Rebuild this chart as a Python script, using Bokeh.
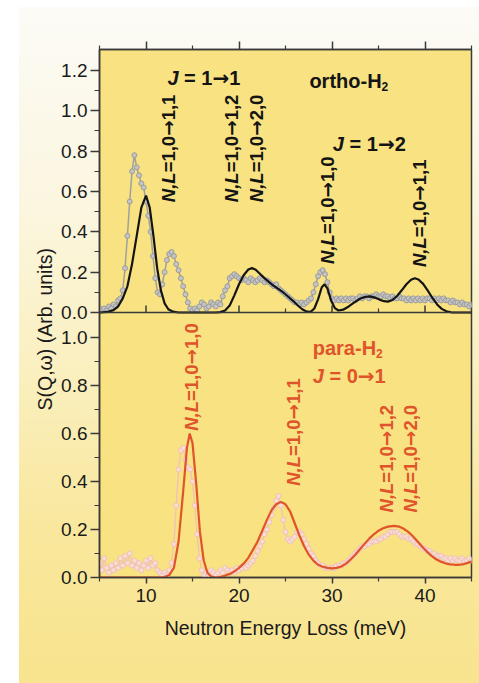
import math
from bokeh.plotting import figure
from bokeh.models import (ColumnDataSource, Range1d, LinearAxis, FixedTicker,
                          CustomJSTickFormatter, Span, Title, Spacer)
from bokeh.layouts import row, column
from bokeh.core.properties import value
from bokeh.embed import file_html
from bokeh.resources import INLINE

# ---------------- data ----------------
energy_grid = [
    5.00, 5.25, 5.50, 5.75, 6.00, 6.25, 6.50, 6.75, 7.00, 7.25, 7.50, 7.75,
    8.00, 8.25, 8.50, 8.75, 9.00, 9.25, 9.50, 9.75, 10.00, 10.25, 10.50, 10.75,
    11.00, 11.25, 11.50, 11.75, 12.00, 12.25, 12.50, 12.75, 13.00, 13.25, 13.50, 13.75,
    14.00, 14.25, 14.50, 14.75, 15.00, 15.25, 15.50, 15.75, 16.00, 16.25, 16.50, 16.75,
    17.00, 17.25, 17.50, 17.75, 18.00, 18.25, 18.50, 18.75, 19.00, 19.25, 19.50, 19.75,
    20.00, 20.25, 20.50, 20.75, 21.00, 21.25, 21.50, 21.75, 22.00, 22.25, 22.50, 22.75,
    23.00, 23.25, 23.50, 23.75, 24.00, 24.25, 24.50, 24.75, 25.00, 25.25, 25.50, 25.75,
    26.00, 26.25, 26.50, 26.75, 27.00, 27.25, 27.50, 27.75, 28.00, 28.25, 28.50, 28.75,
    29.00, 29.25, 29.50, 29.75, 30.00, 30.25, 30.50, 30.75, 31.00, 31.25, 31.50, 31.75,
    32.00, 32.25, 32.50, 32.75, 33.00, 33.25, 33.50, 33.75, 34.00, 34.25, 34.50, 34.75,
    35.00, 35.25, 35.50, 35.75, 36.00, 36.25, 36.50, 36.75, 37.00, 37.25, 37.50, 37.75,
    38.00, 38.25, 38.50, 38.75, 39.00, 39.25, 39.50, 39.75, 40.00, 40.25, 40.50, 40.75,
    41.00, 41.25, 41.50, 41.75, 42.00, 42.25, 42.50, 42.75, 43.00, 43.25, 43.50, 43.75,
    44.00, 44.25, 44.50, 44.75, 45.00,
]

ortho_measured = [
    0.02, 0.01, 0.02, 0.01, 0.03, 0.02, 0.04, 0.03, 0.06, 0.07, 0.11, 0.22,
    0.38, 0.55, 0.70, 0.78, 0.72, 0.68, 0.64, 0.62, 0.55, 0.48, 0.40, 0.28,
    0.17, 0.10, 0.09, 0.14, 0.20, 0.26, 0.29, 0.30, 0.28, 0.24, 0.21, 0.17,
    0.13, 0.09, 0.05, 0.02, 0.01, 0.02, 0.01, 0.03, 0.05, 0.04, 0.02, 0.03,
    0.05, 0.04, 0.03, 0.05, 0.04, 0.08, 0.11, 0.13, 0.17, 0.18, 0.19, 0.18,
    0.17, 0.16, 0.17, 0.16, 0.15, 0.17, 0.16, 0.15, 0.16, 0.17, 0.16, 0.15,
    0.16, 0.15, 0.14, 0.13, 0.14, 0.12, 0.11, 0.10, 0.09, 0.08, 0.07, 0.06,
    0.05, 0.05, 0.04, 0.05, 0.04, 0.05, 0.06, 0.07, 0.10, 0.14, 0.18, 0.20,
    0.21, 0.19, 0.15, 0.10, 0.07, 0.06, 0.07, 0.06, 0.07, 0.06, 0.07, 0.06,
    0.07, 0.07, 0.06, 0.07, 0.08, 0.07, 0.08, 0.08, 0.07, 0.08, 0.08, 0.09,
    0.08, 0.08, 0.09, 0.08, 0.08, 0.07, 0.08, 0.07, 0.07, 0.08, 0.07, 0.07,
    0.06, 0.07, 0.06, 0.07, 0.06, 0.07, 0.06, 0.07, 0.06, 0.07, 0.07, 0.06,
    0.07, 0.06, 0.07, 0.06, 0.07, 0.06, 0.06, 0.05, 0.06, 0.05, 0.05, 0.04,
    0.05, 0.04, 0.04, 0.03, 0.04,
]

para_measured = [
    0.06, 0.03, 0.08, 0.04, 0.02, 0.05, 0.03, 0.06, 0.04, 0.08, 0.05, 0.09,
    0.06, 0.10, 0.05, 0.07, 0.04, 0.06, 0.03, 0.05, 0.07, 0.04, 0.08, 0.05,
    0.06, 0.03, 0.02, 0.01, 0.02, 0.01, 0.03, 0.06, 0.14, 0.30, 0.45, 0.53,
    0.54, 0.49, 0.46, 0.45, 0.40, 0.30, 0.18, 0.08, 0.03, 0.01, 0.02, 0.01,
    0.03, 0.02, 0.01, 0.02, 0.03, 0.02, 0.04, 0.03, 0.02, 0.03, 0.02, 0.04,
    0.03, 0.04, 0.05, 0.04, 0.05, 0.06, 0.07, 0.09, 0.11, 0.13, 0.15, 0.18,
    0.20, 0.23, 0.26, 0.29, 0.32, 0.34, 0.30, 0.24, 0.19, 0.16, 0.15, 0.16,
    0.17, 0.19, 0.19, 0.18, 0.16, 0.14, 0.12, 0.10, 0.09, 0.07, 0.06, 0.05,
    0.05, 0.04, 0.04, 0.04, 0.04, 0.04, 0.05, 0.05, 0.05, 0.06, 0.06, 0.07,
    0.08, 0.09, 0.10, 0.11, 0.12, 0.13, 0.13, 0.14, 0.14, 0.15, 0.15, 0.15,
    0.16, 0.16, 0.17, 0.17, 0.18, 0.19, 0.19, 0.19, 0.19, 0.18, 0.17, 0.17,
    0.17, 0.16, 0.16, 0.15, 0.14, 0.14, 0.13, 0.12, 0.12, 0.11, 0.11, 0.10,
    0.10, 0.09, 0.09, 0.09, 0.08, 0.08, 0.07, 0.08, 0.07, 0.08, 0.07, 0.07,
    0.08, 0.07, 0.07, 0.08, 0.07,
]

ortho_model_x = [
    5.0, 5.5, 6.0, 6.5, 7.0, 7.5, 8.0, 8.5, 9.0, 9.5, 10.0, 10.4, 10.8, 11.2,
    11.6, 12.0, 12.4, 12.9, 13.5, 14.5, 15.5, 16.5, 17.5, 18.0, 18.5, 19.0,
    19.5, 20.0, 20.5, 21.0, 21.4, 21.8, 22.3, 22.8, 23.3, 23.8, 24.3, 24.8,
    25.3, 25.8, 26.3, 26.8, 27.3, 27.7, 28.1, 28.5, 28.9, 29.2, 29.5, 29.9,
    30.3, 30.7, 31.2, 31.8, 32.4, 33.0, 33.6, 34.1, 34.6, 35.1, 35.6, 36.0,
    36.5, 37.0, 37.5, 38.0, 38.5, 38.9, 39.3, 39.8, 40.3, 40.8, 41.3, 41.8,
    42.3, 42.8, 43.5, 44.5, 45.0,
]
ortho_model_y = [
    0.000, 0.002, 0.005, 0.012, 0.030, 0.070, 0.130, 0.240, 0.380, 0.520, 0.580, 0.520, 0.380, 0.220,
    0.110, 0.045, 0.016, 0.004, 0.000, 0.000, 0.000, 0.000, 0.000, 0.002, 0.010, 0.035,
    0.085, 0.140, 0.185, 0.213, 0.220, 0.212, 0.190, 0.168, 0.148, 0.130, 0.115, 0.098,
    0.078, 0.058, 0.036, 0.016, 0.004, 0.003, 0.020, 0.065, 0.125, 0.140, 0.120, 0.060,
    0.022, 0.010, 0.014, 0.030, 0.050, 0.068, 0.078, 0.080, 0.074, 0.064, 0.056, 0.054,
    0.062, 0.082, 0.110, 0.140, 0.162, 0.170, 0.164, 0.142, 0.108, 0.072, 0.040, 0.018,
    0.006, 0.001, 0.000, 0.000, 0.000,
]

para_model_x = [
    5.0, 8.0, 11.5, 12.0, 12.5, 13.0, 13.5, 14.0, 14.4, 14.7, 15.0, 15.4, 15.8,
    16.2, 16.6, 17.0, 17.5, 18.0, 18.5, 19.0, 19.5, 20.0, 20.5, 21.0, 21.5, 22.0,
    22.5, 23.0, 23.5, 24.0, 24.5, 25.0, 25.5, 26.0, 26.5, 27.0, 27.5, 28.0, 28.5,
    29.0, 29.5, 30.0, 30.5, 31.0, 31.5, 32.0, 32.5, 33.0, 33.5, 34.0, 34.5, 35.0,
    35.5, 36.0, 36.7, 37.2, 37.7, 38.2, 38.7, 39.2, 39.7, 40.2, 40.7, 41.2, 41.7,
    42.2, 42.7, 43.2, 43.7, 44.2, 44.6, 45.0,
]
para_model_y = [
    0.000, 0.000, 0.000, 0.002, 0.010, 0.040, 0.150, 0.360, 0.540, 0.600, 0.560, 0.390, 0.190,
    0.072, 0.020, 0.004, 0.000, 0.002, 0.008, 0.015, 0.025, 0.040, 0.058, 0.082, 0.115, 0.150,
    0.195, 0.240, 0.280, 0.305, 0.315, 0.305, 0.275, 0.225, 0.175, 0.130, 0.095, 0.070, 0.053,
    0.045, 0.040, 0.038, 0.040, 0.046, 0.058, 0.075, 0.095, 0.118, 0.140, 0.162, 0.180, 0.195,
    0.205, 0.212, 0.215, 0.212, 0.203, 0.190, 0.172, 0.150, 0.128, 0.108, 0.090, 0.076, 0.066,
    0.059, 0.055, 0.053, 0.053, 0.056, 0.061, 0.066,
]

x_major_ticks = [10, 20, 30, 40]
x_minor_ticks = [5, 15, 25, 35, 45]
top_y_ticks = [0.0, 0.2, 0.4, 0.6, 0.8, 1.0, 1.2]
top_y_minor = [0.1, 0.3, 0.5, 0.7, 0.9, 1.1]
bot_y_ticks = [0.0, 0.2, 0.4, 0.6, 0.8, 1.0]
bot_y_minor = [0.1, 0.3, 0.5, 0.7, 0.9]

# transition labels: "N,L" italic + "=1,0" + arrow + final state
ortho_trans_final = ["1,1", "1,2", "2,0", "1,0", "1,1"]
ortho_trans_x = [12.44, 19.2, 21.9, 29.47, 39.45]
ortho_trans_y = [0.547, 0.547, 0.547, 0.241, 0.225]
para_trans_final = ["1,0", "1,1", "1,2", "2,0"]
para_trans_x = [14.9, 25.87, 35.9, 38.45]
para_trans_y = [0.611, 0.382, 0.271, 0.271]

# ---------------- style / geometry ----------------
FONT = "Liberation Sans"
ARROW_FONT = "DejaVu Sans"
BLACK = "#141414"
ORANGE = "#e0542b"
AXIS = "#3a3a3a"
PLOT_BG = "#f8e281"

FRAME_H = 528
BOT_H = 265
TOP_H = FRAME_H - BOT_H
BOT_MAX = 1.104
TOP_MAX = 1.304
bot_end = BOT_MAX * FRAME_H / BOT_H
top_start = -TOP_MAX * BOT_H / TOP_H
K = (bot_end - BOT_MAX) / TOP_MAX

VFS = 18.5   # vertical transition labels, px
HFS = 20     # horizontal labels, px

p = figure(width=460, height=676, x_range=Range1d(5, 45), y_range=Range1d(0, bot_end),
           output_backend="svg", toolbar_location=None,
           min_border_left=80, min_border_right=8, min_border_top=42, min_border_bottom=106,
           background_fill_color=PLOT_BG, border_fill_color=None,
           outline_line_color=AXIS, outline_line_width=1.5)
p.extra_y_ranges = {"top": Range1d(top_start, TOP_MAX)}
p.grid.visible = False
p.styles = {"background": "linear-gradient(to bottom, #fcfbf6 0%, #fbf6df 30%, #faefbd 55%, #f9e79c 78%, #f8e48e 100%)"}

xt = FixedTicker(ticks=x_major_ticks, minor_ticks=x_minor_ticks)
xa = p.xaxis[0]
xa.ticker = xt
xa.axis_label = "Neutron Energy Loss (meV)"
xa.axis_label_text_font = FONT
xa.axis_label_text_font_size = "19.5px"
xa.axis_label_text_font_style = "normal"
xa.axis_label_text_color = "#1a1a1a"
xa.axis_label_standoff = 12
xa.major_label_text_font = FONT
xa.major_label_text_font_size = "19px"
xa.major_label_text_color = "#1a1a1a"
xa.major_label_standoff = 5
xa.major_tick_out = 6
xa.major_tick_in = 0
xa.minor_tick_out = 4
xa.minor_tick_in = 0
xa.axis_line_color = AXIS
xa.axis_line_width = 1.5
xa.major_tick_line_color = AXIS
xa.major_tick_line_width = 1.5
xa.minor_tick_line_color = AXIS
xa.minor_tick_line_width = 1.2

top_ax = LinearAxis(ticker=xt, formatter=CustomJSTickFormatter(code="return '';"),
                    major_label_standoff=0,
                    major_tick_out=8, major_tick_in=0, minor_tick_out=4, minor_tick_in=0,
                    axis_line_color=AXIS, axis_line_width=1.5,
                    major_tick_line_color=AXIS, major_tick_line_width=1.5,
                    minor_tick_line_color=AXIS, minor_tick_line_width=1.2)
p.add_layout(top_ax, "above")

ya = p.yaxis[0]
ya.ticker = FixedTicker(ticks=bot_y_ticks + [BOT_MAX + v * K for v in top_y_ticks],
                        minor_ticks=bot_y_minor + [BOT_MAX + v * K for v in top_y_minor])
ya.formatter = CustomJSTickFormatter(args=dict(b=BOT_MAX, k=K), code="""
    if (tick < b - 1e-6) { return tick.toFixed(1); }
    let v = (tick - b) / k;
    if (Math.abs(v) < 1e-6) { v = 0; }
    return v.toFixed(1);
""")
ya.major_label_text_font = FONT
ya.major_label_text_font_size = "19px"
ya.major_label_text_color = "#1a1a1a"
ya.major_label_standoff = 3
ya.major_tick_out = 9
ya.major_tick_in = 0
ya.minor_tick_out = 5
ya.minor_tick_in = 0
ya.axis_line_color = AXIS
ya.axis_line_width = 1.5
ya.major_tick_line_color = AXIS
ya.major_tick_line_width = 1.5
ya.minor_tick_line_color = AXIS
ya.minor_tick_line_width = 1.2

# shared y-axis title, started from the bottom with an offset so it sits where the reference puts it
p.add_layout(Title(text="S(Q,\u03c9) (Arb. units)", align="left", offset=167, standoff=6,
                   text_font=FONT, text_font_size="19.5px", text_font_style="normal",
                   text_color="#1a1a1a"), "left")

# divider between the two panels, with inward ticks for the upper panel
p.add_layout(Span(location=0, dimension="width", y_range_name="top",
                  line_color=AXIS, line_width=1.5))
tick_unit = TOP_MAX / TOP_H
p.segment(x0=x_major_ticks, y0=[0] * len(x_major_ticks), x1=x_major_ticks,
          y1=[7 * tick_unit] * len(x_major_ticks), y_range_name="top",
          line_color=AXIS, line_width=1.5)
p.segment(x0=x_minor_ticks, y0=[0] * len(x_minor_ticks), x1=x_minor_ticks,
          y1=[4 * tick_unit] * len(x_minor_ticks), y_range_name="top",
          line_color=AXIS, line_width=1.2)

# ---------------- series ----------------
osrc = ColumnDataSource(dict(x=energy_grid, y=ortho_measured))
p.line("x", "y", source=osrc, y_range_name="top", line_color="#a0a0a0", line_width=1.5)
p.scatter("x", "y", source=osrc, y_range_name="top", size=5, marker="circle",
          fill_color="#c4c4c4", line_color="#979797", line_width=0.9)
p.line(ortho_model_x, ortho_model_y, y_range_name="top", line_color=BLACK, line_width=2.2)

psrc = ColumnDataSource(dict(x=energy_grid, y=para_measured))
p.line("x", "y", source=psrc, line_color="#f2c0b9", line_width=1.3)
p.scatter("x", "y", source=psrc, size=5, marker="circle",
          fill_color="#f8dcd6", line_color="#f0bbb4", line_width=0.8)
p.line(para_model_x, para_model_y, line_color=ORANGE, line_width=2.2)

# ---------------- labels ----------------
# advance widths (em) of the pieces in Liberation Sans Bold / DejaVu Sans Bold
EM_NL = 0.722 + 0.278 + 0.611
EM_EQ10 = 0.584 + 0.556 + 0.278 + 0.556
EM_ARROW = 0.838

def pieces(xs, ys, rng, color, parts, size, vertical):
    """parts: list of (texts, font, style, em_width); drawn one after another."""
    n = len(xs)
    off = 0.0
    for texts, font, style, em in parts:
        if isinstance(texts, str):
            texts = [texts] * n
        src = ColumnDataSource(dict(x=xs, y=ys, t=texts))
        kw = dict(source=src, y_range_name=rng, text_font=value(font),
                  text_font_size=f"{size}px", text_font_style=style, text_color=color,
                  text_align="left")
        if vertical:
            p.text(x="x", y="y", text="t", angle=math.pi / 2, text_baseline="middle",
                   y_offset=-off, **kw)
        else:
            p.text(x="x", y="y", text="t", text_baseline="alphabetic", x_offset=off, **kw)
        off += em * size

def transitions(xs, ys, finals, rng, color):
    pieces(xs, ys, rng, color, [
        ("N,L", FONT, "bold italic", EM_NL),
        ("=1,0", FONT, "bold", EM_EQ10),
        ("\u2192", ARROW_FONT, "bold", EM_ARROW),
        (finals, FONT, "bold", 0),
    ], VFS, True)

transitions(ortho_trans_x, ortho_trans_y, ortho_trans_final, "top", BLACK)
transitions(para_trans_x, para_trans_y, para_trans_final, "default", ORANGE)

def jlabel(x, y, j0, j1, rng, color):
    pieces([x], [y], rng, color, [
        ("J", FONT, "bold italic", 0.556 + 0.278),
        ("= " + j0, FONT, "bold", 0.584 + 0.278 + 0.556),
        ("\u2192", ARROW_FONT, "bold", EM_ARROW),
        (j1, FONT, "bold", 0),
    ], HFS, False)

jlabel(12.3, 1.164, "1", "1", "top", BLACK)
jlabel(30.09, 0.836, "1", "2", "top", BLACK)
jlabel(27.93, 0.840, "0", "1", "default", ORANGE)

def species(x, y, name, em, rng, color):
    pieces([x], [y], rng, color, [(name, FONT, "bold", em)], HFS, False)
    src = ColumnDataSource(dict(x=[x], y=[y], t=["2"]))
    p.text(x="x", y="y", text="t", source=src, y_range_name=rng, text_font=value(FONT),
           text_font_size="12px", text_font_style="bold", text_color=color,
           text_align="left", text_baseline="alphabetic", x_offset=em * HFS, y_offset=6)

species(27.57, 1.150, "ortho-H", 3.61, "top", BLACK)
species(27.93, 0.958, "para-H", 3.167, "default", ORANGE)

layout = row(Spacer(width=19, height=683), column(Spacer(width=460, height=7), p))
open("out.html", "w").write(file_html(layout, INLINE))
